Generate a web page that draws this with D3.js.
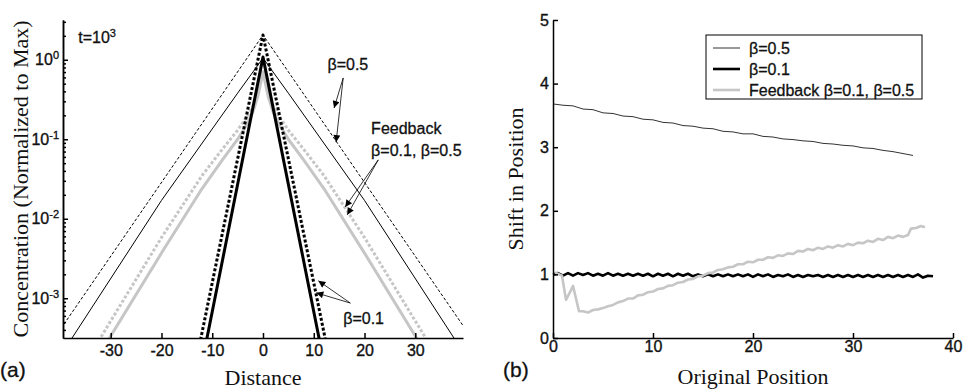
<!DOCTYPE html>
<html>
<head>
<meta charset="utf-8">
<script src="https://cdn.jsdelivr.net/npm/d3@7"></script>
<style>
  body { margin: 0; background: #fff; }
  .tick text { font-family: "Liberation Sans", Arial, sans-serif; font-size: 16px; fill: #111; stroke: #111; stroke-width: 0.35; }
  .axis path, .axis line { stroke: #000; stroke-width: 1.5; }
  .title { font-family: "Liberation Serif", "Times New Roman", serif; font-size: 22px; fill: #111; }
  .note { font-family: "Liberation Sans", Arial, sans-serif; font-size: 16px; fill: #111; stroke: #111; stroke-width: 0.3; }
</style>
</head>
<body>
<script>
// ---------- panel (a): concentration profiles, [distance, value]
var beta05Dashed = [[-42, 2.6e-4], [0, 2.05], [42, 2.6e-4]];
var beta05Solid = [[-38, 2.9e-4], [-20, 0.017], [-5, 0.38], [0, 1.05], [5, 0.38], [20, 0.017], [38, 2.9e-4]];
var beta01Dashed = [[-12.5, 2.6e-4], [0, 2.05], [12.5, 2.6e-4]];
var beta01Solid = [[-11.2, 2.8e-4], [0, 1.08], [11.2, 2.8e-4]];
var feedbackSolid = [[-30.6, 2.9e-4], [-20, 0.0037], [-12, 0.024], [-8, 0.055], [-5, 0.1], [-3, 0.16], [-2, 0.22],
  [-1, 0.35], [0, 0.7], [1, 0.35], [2, 0.22], [3, 0.16], [5, 0.1], [8, 0.055], [12, 0.024], [20, 0.0037], [30.6, 2.9e-4]];
var feedbackDashed = [[-32.4, 2.9e-4], [-20, 0.0058], [-12, 0.035], [-8, 0.075], [-5, 0.13], [-3, 0.2], [-2, 0.26],
  [-1, 0.4], [0, 0.75], [1, 0.4], [2, 0.26], [3, 0.2], [5, 0.13], [8, 0.075], [12, 0.035], [20, 0.0058], [32.4, 2.9e-4]];
var xTicksA = [-30, -20, -10, 0, 10, 20, 30];
var yTicksA = [1e-3, 1e-2, 1e-1, 1];

// annotations of panel (a) in data units
var notesA = [
  { x: -36.4, y: 1.62, text: "t=10", sup: "3" },
  { x: 12.7, y: 0.74, text: "\u03b2=0.5" },
  { x: 21.3, y: 0.116, text: "Feedback" },
  { x: 21.3, y: 0.0617, text: "\u03b2=0.1, \u03b2=0.5" },
  { x: 15.8, y: 4.8e-4, text: "\u03b2=0.1" }
];
var arrowsA = [
  [[15.8, 0.59], [14.0, 0.247]], [[15.8, 0.59], [14.4, 0.092]],
  [[22.7, 0.055], [16.2, 0.0141]], [[22.7, 0.055], [16.6, 0.0112]],
  [[17.2, 8.7e-4], [10.9, 1.66e-3]], [[17.2, 8.7e-4], [10.5, 1.17e-3]]
];

// ---------- panel (b): shift in position
var beta05Start = 0, beta05Step = 1;
var beta05Shift = [3.68, 3.66, 3.65, 3.60, 3.59, 3.54, 3.53, 3.49, 3.48, 3.44, 3.43, 3.39, 3.38, 3.34, 3.33, 3.30,
  3.29, 3.25, 3.24, 3.21, 3.21, 3.17, 3.16, 3.13, 3.12, 3.10, 3.09, 3.06, 3.05, 3.03, 3.02, 2.99, 2.98, 2.95,
  2.93, 2.90, 2.87];
var beta01Start = 0, beta01Step = 0.5;
var beta01Shift = [1.00, 1.02, 0.98, 1.02, 0.98, 1.02, 0.99, 1.02, 0.98, 1.01, 0.98, 1.02, 0.98, 1.01, 0.98, 1.01,
  0.98, 1.01, 0.98, 1.01, 0.97, 1.01, 0.98, 1.01, 0.97, 1.01, 0.98, 1.01, 0.97, 1.00, 0.97, 1.00, 0.97, 1.00,
  0.97, 1.00, 0.97, 1.00, 0.97, 1.00, 0.96, 1.00, 0.97, 1.00, 0.96, 0.99, 0.97, 1.00, 0.96, 0.99, 0.96, 0.99,
  0.97, 0.99, 0.96, 0.99, 0.96, 0.99, 0.96, 0.99, 0.96, 0.99, 0.96, 0.99, 0.96, 0.99, 0.96, 0.99, 0.96, 0.99,
  0.96, 0.99, 0.96, 1.00, 0.95, 0.98, 0.97];
var feedbackShift = [[0.2, 1.03], [0.9, 0.98], [1.3, 0.6], [1.7, 0.72], [2.0, 0.82], [2.6, 0.42], [3.0, 0.42],
  [3.5, 0.40], [4, 0.44], [4.5, 0.45], [5, 0.47], [5.5, 0.50], [6, 0.52], [6.5, 0.56], [7, 0.58], [7.5, 0.62],
  [8, 0.62], [8.5, 0.67], [9, 0.68], [9.5, 0.72], [10, 0.73], [10.5, 0.77], [11, 0.78], [11.5, 0.82], [12, 0.83],
  [12.5, 0.87], [13, 0.88], [13.5, 0.92], [14, 0.93], [14.5, 0.97], [15, 0.98], [15.5, 1.02], [16, 1.03],
  [16.5, 1.07], [17, 1.08], [17.5, 1.11], [18, 1.12], [18.5, 1.16], [19, 1.16], [19.5, 1.20], [20, 1.19],
  [20.5, 1.23], [21, 1.23], [21.5, 1.27], [22, 1.26], [22.5, 1.30], [23, 1.29], [23.5, 1.33], [24, 1.32],
  [24.5, 1.37], [25, 1.36], [25.5, 1.40], [26, 1.38], [26.5, 1.42], [27, 1.40], [27.5, 1.44], [28, 1.42],
  [28.5, 1.46], [29, 1.44], [29.5, 1.48], [30, 1.46], [30.5, 1.50], [31, 1.49], [31.5, 1.53], [32, 1.51],
  [32.5, 1.56], [33, 1.54], [33.5, 1.59], [34, 1.57], [34.5, 1.61], [35, 1.59], [35.5, 1.62], [35.8, 1.72],
  [36.3, 1.73], [36.8, 1.76], [37.2, 1.74]];
var xTicksB = [0, 10, 20, 30, 40];
var yTicksB = [0, 1, 2, 3, 4, 5];
var legendB = ["\u03b2=0.5", "\u03b2=0.1", "Feedback \u03b2=0.1, \u03b2=0.5"];

var svg = d3.select("body").append("svg")
  .attr("width", 964)
  .attr("height", 389);

var defs = svg.append("defs");
defs.append("marker")
  .attr("id", "head")
  .attr("viewBox", "0 0 10 10")
  .attr("refX", 10).attr("refY", 5)
  .attr("markerWidth", 9).attr("markerHeight", 7)
  .attr("markerUnits", "userSpaceOnUse")
  .attr("orient", "auto")
  .append("path").attr("d", "M0,0L10,5L0,10z").attr("fill", "#000");

// ================= panel (a) =================
var xa = d3.scaleLinear().domain([-39.4, 39.4]).range([63, 463]);
var ya = d3.scaleLog().domain([Math.pow(10, -3.5), Math.pow(10, 0.5)]).range([338, 20]);

defs.append("clipPath").attr("id", "clipA")
  .append("rect")
  .attr("x", xa.range()[0]).attr("y", ya.range()[1])
  .attr("width", xa.range()[1] - xa.range()[0])
  .attr("height", ya.range()[0] - ya.range()[1]);

var lineA = d3.line()
  .x(function (d) { return xa(d[0]); })
  .y(function (d) { return ya(d[1]); });

var plotA = svg.append("g").attr("clip-path", "url(#clipA)");

var seriesA = [
  { d: feedbackDashed, color: "#c6c6c6", w: 3, dash: "3,2" },
  { d: feedbackSolid, color: "#c6c6c6", w: 3, dash: null },
  { d: beta05Dashed, color: "#000", w: 1, dash: "3,2" },
  { d: beta05Solid, color: "#000", w: 1, dash: null },
  { d: beta01Dashed, color: "#000", w: 3, dash: "3,2" },
  { d: beta01Solid, color: "#000", w: 3, dash: null }
];
seriesA.forEach(function (s) {
  plotA.append("path")
    .datum(s.d)
    .attr("fill", "none")
    .attr("stroke", s.color)
    .attr("stroke-width", s.w)
    .attr("stroke-dasharray", s.dash)
    .attr("stroke-linejoin", "round")
    .attr("d", lineA);
});

// x axis
svg.append("g")
  .attr("class", "axis")
  .attr("transform", "translate(0," + ya.range()[0] + ")")
  .call(d3.axisBottom(xa).tickValues(xTicksA).tickSize(-5).tickSizeOuter(0).tickPadding(7)
    .tickFormat(function (d) { return d; }));

// y axis (log): minor ticks then major ticks
var minorA = [];
[-4, -3, -2, -1, 0].forEach(function (e) {
  for (var m = 2; m <= 9; m++) {
    var v = m * Math.pow(10, e);
    if (v >= ya.domain()[0] && v <= ya.domain()[1]) minorA.push(v);
  }
});
svg.append("g")
  .attr("class", "axis")
  .attr("transform", "translate(" + xa.range()[0] + ",0)")
  .call(d3.axisLeft(ya).tickValues(minorA).tickSize(-3).tickSizeOuter(0).tickFormat(""));

var yAxA = svg.append("g")
  .attr("class", "axis")
  .attr("transform", "translate(" + xa.range()[0] + ",0)")
  .call(d3.axisLeft(ya).tickValues(yTicksA).tickSize(-5).tickSizeOuter(0).tickPadding(4)
    .tickFormat(function () { return ""; }));
yAxA.selectAll(".tick text").each(function (d) {
  var t = d3.select(this);
  t.append("tspan").text("10");
  t.append("tspan").attr("dy", "-0.55em").style("font-size", "11px").text(Math.round(Math.log10(d)));
});

// annotations
var noteSel = svg.append("g").selectAll("text")
  .data(notesA).enter().append("text")
  .attr("class", "note")
  .attr("x", function (d) { return xa(d.x); })
  .attr("y", function (d) { return ya(d.y); })
  .text(function (d) { return d.text; });
noteSel.filter(function (d) { return d.sup; })
  .append("tspan").attr("dy", "-0.55em").style("font-size", "11px").text(function (d) { return d.sup; });

svg.append("g").selectAll("line")
  .data(arrowsA).enter().append("line")
  .attr("x1", function (d) { return xa(d[0][0]); })
  .attr("y1", function (d) { return ya(d[0][1]); })
  .attr("x2", function (d) { return xa(d[1][0]); })
  .attr("y2", function (d) { return ya(d[1][1]); })
  .attr("stroke", "#000")
  .attr("stroke-width", 0.8)
  .attr("marker-end", "url(#head)");

svg.append("text").attr("class", "title")
  .attr("text-anchor", "middle")
  .attr("x", xa(0)).attr("y", 385)
  .text("Distance");

svg.append("text").attr("class", "title")
  .attr("text-anchor", "middle")
  .attr("transform", "translate(28," + (ya.range()[0] + ya.range()[1]) / 2 + ") rotate(-90)")
  .text("Concentration (Normalized to Max)");

svg.append("text").attr("class", "note")
  .style("font-size", "21px")
  .attr("x", 0).attr("y", 377)
  .text("(a)");

// ================= panel (b) =================
var xb = d3.scaleLinear().domain([0, 40]).range([553, 953]);
var yb = d3.scaleLinear().domain([0, 5]).range([338, 20]);

var lineB = d3.line()
  .x(function (d) { return xb(d[0]); })
  .y(function (d) { return yb(d[1]); });

var beta05Pts = beta05Shift.map(function (v, i) { return [beta05Start + i * beta05Step, v]; });
var beta01Pts = beta01Shift.map(function (v, i) { return [beta01Start + i * beta01Step, v]; });

var seriesB = [
  { d: beta05Pts, color: "#333", w: 1 },
  { d: beta01Pts, color: "#000", w: 2.6 },
  { d: feedbackShift, color: "#c6c6c6", w: 2.6 }
];
seriesB.forEach(function (s) {
  svg.append("path")
    .datum(s.d)
    .attr("fill", "none")
    .attr("stroke", s.color)
    .attr("stroke-width", s.w)
    .attr("stroke-linejoin", "round")
    .attr("d", lineB);
});

svg.append("g")
  .attr("class", "axis")
  .attr("transform", "translate(0," + yb.range()[0] + ")")
  .call(d3.axisBottom(xb).tickValues(xTicksB).tickSize(-5).tickSizeOuter(0).tickPadding(3)
    .tickFormat(d3.format("d")));

svg.append("g")
  .attr("class", "axis")
  .attr("transform", "translate(" + xb.range()[0] + ",0)")
  .call(d3.axisLeft(yb).tickValues(yTicksB).tickSize(-5).tickSizeOuter(0).tickPadding(4)
    .tickFormat(d3.format("d")));

// legend
var leg = svg.append("g").attr("transform", "translate(706,35)");
leg.append("rect")
  .attr("width", 216).attr("height", 64)
  .attr("fill", "#fff").attr("stroke", "#000").attr("stroke-width", 1);
var legItems = leg.selectAll("g.item")
  .data(legendB).enter().append("g")
  .attr("class", "item")
  .attr("transform", function (d, i) { return "translate(0," + (13 + i * 21) + ")"; });
legItems.append("line")
  .attr("x1", 7).attr("x2", 34)
  .attr("stroke", function (d, i) { return seriesB[i].color; })
  .attr("stroke-width", function (d, i) { return seriesB[i].w; });
legItems.append("text")
  .attr("class", "note")
  .attr("x", 43).attr("y", 6)
  .text(function (d) { return d; });

svg.append("text").attr("class", "title")
  .attr("text-anchor", "middle")
  .attr("x", xb(20)).attr("y", 384)
  .text("Original Position");

svg.append("text").attr("class", "title")
  .attr("text-anchor", "middle")
  .attr("transform", "translate(523," + (yb.range()[0] + yb.range()[1]) / 2 + ") rotate(-90)")
  .text("Shift in Position");

svg.append("text").attr("class", "note")
  .style("font-size", "21px")
  .attr("x", 503).attr("y", 377)
  .text("(b)");
</script>
</body>
</html>
